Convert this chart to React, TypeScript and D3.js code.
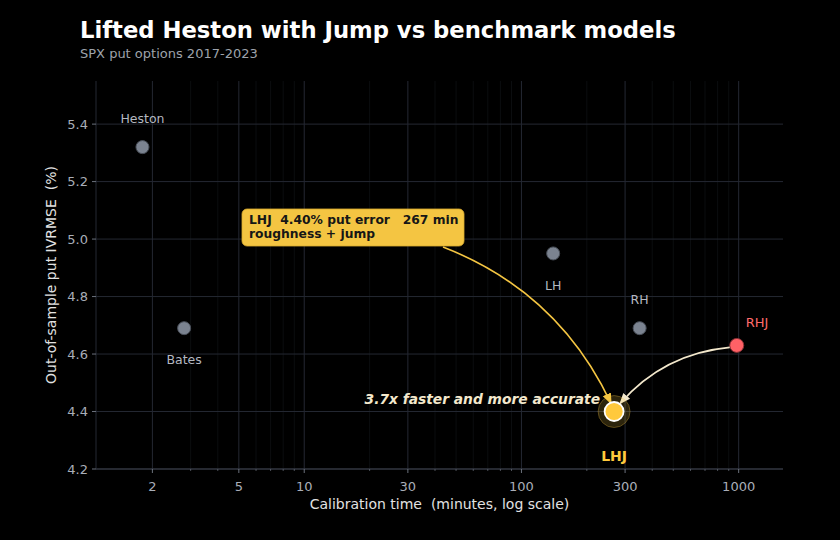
import * as d3 from 'd3';

// Data
const models = ['Heston', 'Bates', 'LH', 'RH', 'RHJ', 'LHJ'];
const calibMinutes = [1.8, 2.8, 140, 350, 980, 267];
const putError = [5.32, 4.69, 4.95, 4.69, 4.63, 4.40];
const xTicks = [2, 5, 10, 30, 100, 300, 1000];
const yTicks = [4.2, 4.4, 4.6, 4.8, 5.0, 5.2, 5.4];

const W = 840;
const H = 540;
const margin = { top: 81, right: 57, bottom: 71, left: 96 };

const font = 'DejaVu Sans, sans-serif';
const pre = { whiteSpace: 'pre' as const };

function curve(x1: number, y1: number, x2: number, y2: number, rad: number) {
  // quadratic bezier like matplotlib arc3
  const mx = (x1 + x2) / 2;
  const my = (y1 + y2) / 2;
  const dx = x2 - x1;
  const dy = y2 - y1;
  const cx = mx + rad * dy;
  const cy = my - rad * dx;
  const p = d3.path();
  p.moveTo(x1, y1);
  p.quadraticCurveTo(cx, cy, x2, y2);
  return p.toString();
}

export default function App() {
  const x = d3.scaleLog().domain([1.1, 1600]).range([margin.left, W - margin.right]);
  const y = d3.scaleLinear().domain([4.2, 5.55]).range([H - margin.bottom, margin.top]);

  const minor: number[] = [];
  for (let p = 0; p <= 3; p++) {
    for (let m = 2; m <= 9; m++) {
      const v = m * Math.pow(10, p);
      if (v > 1.1 && v < 1600 && !xTicks.includes(v)) minor.push(v);
    }
  }

  const pts = models.map((m, i) => ({ name: m, x: calibMinutes[i], y: putError[i] }));
  const lhj = pts[5];
  const rhj = pts[4];
  const lx = x(lhj.x);
  const ly = y(lhj.y);

  const labelPos: Record<string, [number, number, string]> = {
    Heston: [0, -24, 'middle'],
    Bates: [0, 36, 'middle'],
    LH: [0, 37, 'middle'],
    RH: [0, -24, 'middle'],
  };

  const boxX = 242;
  const boxY = 209;

  return (
    <svg width={W} height={H} style={{ position: 'absolute', left: 0, top: 0 }} fontFamily={font}>
      <defs>
        <marker id="ay" viewBox="0 0 10 10" refX="9" refY="5" markerWidth="7" markerHeight="7" orient="auto">
          <path d="M0,1 L10,5 L0,9 z" fill="#f4c542" />
        </marker>
        <marker id="ac" viewBox="0 0 10 10" refX="9" refY="5" markerWidth="7" markerHeight="7" orient="auto">
          <path d="M0,1 L10,5 L0,9 z" fill="#f3e8cc" />
        </marker>
      </defs>
      <rect width={W} height={H} fill="#000" />

      {/* minor grid */}
      {minor.map((v) => (
        <line key={'mg' + v} x1={x(v)} x2={x(v)} y1={margin.top} y2={H - margin.bottom} stroke="#0e1013" strokeWidth={0.8} />
      ))}
      {/* major grid */}
      {xTicks.map((v) => (
        <line key={'xg' + v} x1={x(v)} x2={x(v)} y1={margin.top} y2={H - margin.bottom} stroke="#242832" strokeWidth={1} />
      ))}
      {yTicks.map((v) => (
        <line key={'yg' + v} x1={margin.left} x2={W - margin.right} y1={y(v)} y2={y(v)} stroke="#242832" strokeWidth={1} />
      ))}

      {/* spines */}
      <line x1={margin.left} x2={W - margin.right} y1={H - margin.bottom} y2={H - margin.bottom} stroke="#3a3f4a" />
      <line x1={margin.left} x2={margin.left} y1={margin.top} y2={H - margin.bottom} stroke="#242832" />

      {/* ticks */}
      {xTicks.map((v) => (
        <g key={'xt' + v}>
          <line x1={x(v)} x2={x(v)} y1={H - margin.bottom} y2={H - margin.bottom + 4} stroke="#6b717c" />
          <text x={x(v)} y={H - margin.bottom + 22} textAnchor="middle" fontSize={13} fill="#a9aeb8">{v}</text>
        </g>
      ))}
      {minor.map((v) => (
        <line key={'mt' + v} x1={x(v)} x2={x(v)} y1={H - margin.bottom} y2={H - margin.bottom + 2} stroke="#6b717c" strokeWidth={0.7} />
      ))}
      {yTicks.map((v) => (
        <g key={'yt' + v}>
          <line x1={margin.left - 4} x2={margin.left} y1={y(v)} y2={y(v)} stroke="#6b717c" />
          <text x={margin.left - 8} y={y(v) + 4.5} textAnchor="end" fontSize={13} fill="#a9aeb8">{v.toFixed(1)}</text>
        </g>
      ))}

      {/* axis labels */}
      <text x={(margin.left + W - margin.right) / 2} y={509} textAnchor="middle" fontSize={14} fill="#e2e2e2" style={pre}>
        {'Calibration time  (minutes, log scale)'}
      </text>
      <text transform={`translate(56, ${(margin.top + H - margin.bottom) / 2}) rotate(-90)`} textAnchor="middle" fontSize={14} fill="#e2e2e2" style={pre}>
        {'Out-of-sample put IVRMSE  (%)'}
      </text>

      {/* title */}
      <text x={80} y={38} fontSize={22.7} fontWeight="bold" fill="#ffffff">Lifted Heston with Jump vs benchmark models</text>
      <text x={80} y={58} fontSize={13} fill="#9ea3ab">SPX put options 2017-2023</text>

      {/* benchmark points */}
      {pts.slice(0, 4).map((p) => {
        const [dx, dy, anchor] = labelPos[p.name];
        return (
          <g key={p.name}>
            <circle cx={x(p.x)} cy={y(p.y)} r={6.5} fill="#7b8390" stroke="#4a505a" strokeWidth={1} />
            <text x={x(p.x) + dx} y={y(p.y) + dy} textAnchor={anchor} fontSize={12.5} fill="#b4b8c0">{p.name}</text>
          </g>
        );
      })}

      {/* RHJ */}
      <circle cx={x(rhj.x)} cy={y(rhj.y)} r={7} fill="#ff6166" stroke="#8a3035" strokeWidth={1} />
      <text x={x(rhj.x) + 9} y={y(rhj.y) - 18} fontSize={13} fill="#ff6b6b">RHJ</text>

      {/* arrows */}
      <path d={curve(443, boxY + 38, lx - 3, ly - 8, 0.2)} fill="none" stroke="#f4c542" strokeWidth={1.6} markerEnd="url(#ay)" />
      <path d={curve(x(rhj.x) - 7, y(rhj.y) + 2, lx + 6, ly - 8, -0.2)} fill="none" stroke="#f3e8cc" strokeWidth={1.6} markerEnd="url(#ac)" />

      {/* LHJ */}
      <circle cx={lx} cy={ly} r={16} fill="#f4c542" fillOpacity={0.18} stroke="#f4c542" strokeOpacity={0.3} strokeWidth={1} />
      <circle cx={lx} cy={ly} r={9.5} fill="#ffc93c" stroke="#ffffff" strokeWidth={1.8} />
      <text x={lx} y={ly + 49} textAnchor="middle" fontSize={14} fontWeight="bold" fill="#ffc93c">LHJ</text>

      <text x={600} y={404} textAnchor="end" fontSize={13.8} fontWeight="bold" fontStyle="italic" fill="#f3e8cc">
        3.7x faster and more accurate
      </text>

      {/* annotation box */}
      <rect x={boxX} y={boxY} width={222} height={37} rx={5} fill="#f4c542" stroke="#d9ab2e" strokeWidth={0.8} />
      <text x={boxX + 7} y={boxY + 15} fontSize={12.3} fontWeight="bold" fill="#161616" style={pre}>
        {`LHJ  ${lhj.y.toFixed(2)}% put error   ${lhj.x} min`}
      </text>
      <text x={boxX + 7} y={boxY + 29} fontSize={12.3} fontWeight="bold" fill="#161616">roughness + jump</text>
    </svg>
  );
}
